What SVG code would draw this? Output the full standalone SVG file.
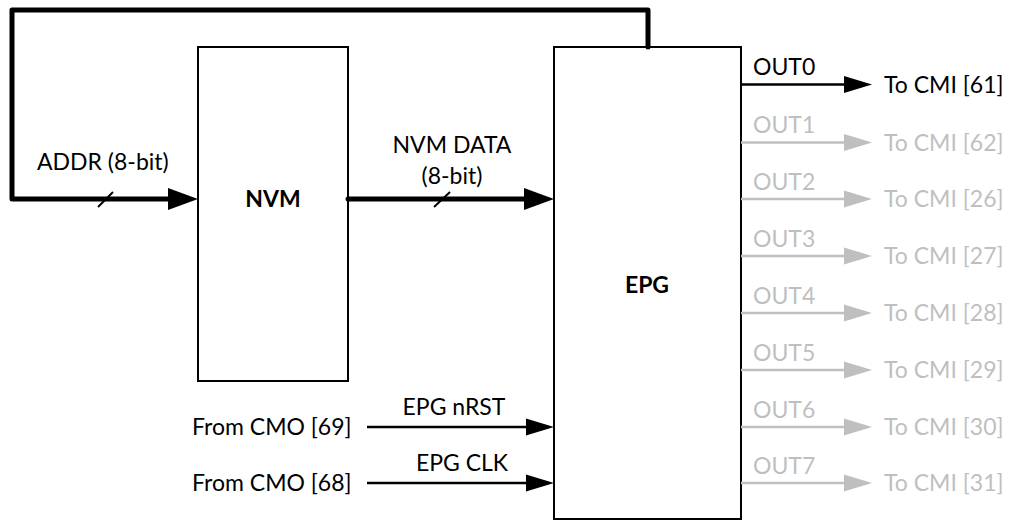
<svg xmlns="http://www.w3.org/2000/svg" width="1013" height="525" viewBox="0 0 1013 525">
<style>
text{font-family:Lato,"Open Sans","Liberation Sans",sans-serif;font-size:23px;fill:#000}
.b{font-weight:bold}
.g{fill:#BFBFBF}
.box{fill:#fff;stroke:#000;stroke-width:2}
.bus{fill:none;stroke:#000;stroke-width:5;stroke-linejoin:round}
.w{fill:none;stroke:#000;stroke-width:2.5}
.wg{fill:none;stroke:#BFBFBF;stroke-width:2.5}
.sl{stroke:#000;stroke-width:2}
</style>
<defs>
<marker id="ab" markerUnits="userSpaceOnUse" markerWidth="32" markerHeight="24" refX="0" refY="11" orient="auto" overflow="visible"><path d="M0,0 L30,11 L0,22 Z" fill="#000"/></marker>
<marker id="ak" markerUnits="userSpaceOnUse" markerWidth="30" markerHeight="18" refX="0" refY="8.5" orient="auto" overflow="visible"><path d="M0,0 L28,8.5 L0,17 Z" fill="#000"/></marker>
<marker id="ag" markerUnits="userSpaceOnUse" markerWidth="30" markerHeight="18" refX="0" refY="8.5" orient="auto" overflow="visible"><path d="M0,0 L28,8.5 L0,17 Z" fill="#BFBFBF"/></marker>
</defs>
<g id="nvm"><rect class="box" x="198" y="47" width="150" height="334"/><text class="b" x="273" y="207" text-anchor="middle">NVM</text></g>
<g id="epg"><rect class="box" x="554" y="47" width="187" height="472"/><text class="b" x="647" y="293" text-anchor="middle">EPG</text></g>
<g id="connectors">
<path class="bus" d="M648,47 V10 H12 V199 H168" marker-end="url(#ab)"/>
<circle cx="648" cy="47" r="2.5" fill="#000"/>
<line class="sl" x1="98" y1="207" x2="113" y2="192"/>
<path class="bus" d="M348,199 H524" marker-end="url(#ab)"/>
<circle cx="348" cy="199" r="2.5" fill="#000"/>
<line class="sl" x1="434" y1="207" x2="450" y2="192"/>
<path class="w" d="M367,427 H526" marker-end="url(#ak)"/>
<path class="w" d="M367,483 H526" marker-end="url(#ak)"/>
<path class="w" d="M741,84.5 H844" marker-end="url(#ak)"/>
<path class="wg" d="M741,142.5 H844" marker-end="url(#ag)"/>
<path class="wg" d="M741,199 H844" marker-end="url(#ag)"/>
<path class="wg" d="M741,256 H844" marker-end="url(#ag)"/>
<path class="wg" d="M741,313 H844" marker-end="url(#ag)"/>
<path class="wg" d="M741,370 H844" marker-end="url(#ag)"/>
<path class="wg" d="M741,427 H844" marker-end="url(#ag)"/>
<path class="wg" d="M741,483 H844" marker-end="url(#ag)"/>
</g>
<g id="labels">
<text x="37" y="170">ADDR (8-bit)</text>
<text x="452" y="153" text-anchor="middle">NVM DATA</text>
<text x="452" y="184" text-anchor="middle">(8-bit)</text>
<text x="192" y="435">From CMO [69]</text>
<text x="192" y="491">From CMO [68]</text>
<text x="454" y="415" text-anchor="middle">EPG nRST</text>
<text x="462" y="471" text-anchor="middle">EPG CLK</text>
<text x="753" y="75">OUT0</text>
<text x="884" y="93">To CMI [61]</text>
<text class="g" x="753" y="133">OUT1</text>
<text class="g" x="884" y="151">To CMI [62]</text>
<text class="g" x="753" y="190">OUT2</text>
<text class="g" x="884" y="207">To CMI [26]</text>
<text class="g" x="753" y="247">OUT3</text>
<text class="g" x="884" y="264">To CMI [27]</text>
<text class="g" x="753" y="304">OUT4</text>
<text class="g" x="884" y="321">To CMI [28]</text>
<text class="g" x="753" y="361">OUT5</text>
<text class="g" x="884" y="378">To CMI [29]</text>
<text class="g" x="753" y="418">OUT6</text>
<text class="g" x="884" y="435">To CMI [30]</text>
<text class="g" x="753" y="474">OUT7</text>
<text class="g" x="884" y="491">To CMI [31]</text>
</g>
</svg>
